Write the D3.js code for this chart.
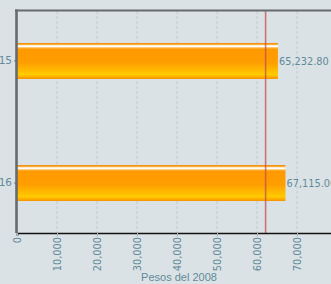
<!DOCTYPE html>
<html>
<head>
<meta charset="utf-8">
<script src="https://cdnjs.cloudflare.com/ajax/libs/d3/7.8.5/d3.min.js"></script>
<style>
	body{margin:0;background:#dbe2e5;overflow:hidden;}
	svg{display:block;}
</style>
</head>
<body>
<div id="container"></div>
<script>
const categories=["15", "16"];
const values=[65232.80, 67115.00];
const refValue=62150;
const xTicks=[0, 10000, 20000, 30000, 40000, 50000, 60000, 70000];
const xTitle="Pesos del 2008";

const w=331;
const h=284;
const margin={top:11, left:17, bottom:51, right:-10};
const graphWidth=w-margin.left-margin.right;
const graphHeight=h-margin.top-margin.bottom;
const textColor="#5f8a99";

const svg=d3.select("#container").append("svg").attr("width", w).attr("height", h);

// bar gradient
const defs=svg.append("defs");
const grad=defs.append("linearGradient").attr("id", "barGrad")
	.attr("x1", 0).attr("y1", 0).attr("x2", 0).attr("y2", 1);
[[0, "#ef8a00"], [0.04, "#f9a830"], [0.07, "#fff0d8"], [0.10, "#ffffff"], [0.13, "#ffc060"],
 [0.17, "#ff9900"], [0.55, "#ff9e00"], [0.80, "#ffc000"], [0.88, "#ffcc00"], [0.94, "#ffae00"], [1, "#f59000"]]
	.forEach(s => grad.append("stop").attr("offset", s[0]).attr("stop-color", s[1]));

const graph=svg.append("g").attr('transform', `translate(${margin.left}, ${margin.top})`);

const xScale=d3.scaleLinear()
	.domain([0, 81000])
	.range([0, graphWidth]);

const yScale=d3.scaleBand()
	.domain(categories)
	.range([0, graphHeight])
	.paddingInner(0.705)
	.paddingOuter(0.262);

// grid
graph.append("g").selectAll("line")
	.data(xTicks.slice(1).concat([80000]))
	.enter()
	.append("line")
		.attr("x1", d => xScale(d)).attr("x2", d => xScale(d))
		.attr("y1", 0).attr("y2", graphHeight + 4)
		.attr("stroke", "#c3cbcf")
		.attr("stroke-dasharray", "3,2");

// bars
graph.selectAll("rect.bar")
	.data(values)
	.enter()
	.append("rect")
		.attr("class", "bar")
		.attr("x", 0)
		.attr("y", (d, i) => yScale(categories[i]))
		.attr("width", d => xScale(d))
		.attr("height", yScale.bandwidth())
		.attr("fill", "url(#barGrad)");

// value labels
graph.selectAll("text.val")
	.data(values)
	.enter()
	.append("text")
		.attr("class", "val")
		.attr("x", d => xScale(d) + 1)
		.attr("y", (d, i) => yScale(categories[i]) + yScale.bandwidth()/2)
		.attr("dy", "0.36em")
		.attr("font-family", "DejaVu Sans")
		.attr("font-size", 9.8)
		.attr("fill", textColor)
		.text(d => d3.format(",.2f")(d));

// reference line
graph.append("line")
	.attr("x1", xScale(refValue)).attr("x2", xScale(refValue))
	.attr("y1", 0).attr("y2", graphHeight)
	.attr("stroke", "#c0504d")
	.attr("stroke-opacity", 0.75)
	.attr("stroke-width", 1.6);

// top border
graph.append("line")
	.attr("x1", -2).attr("x2", graphWidth)
	.attr("y1", -0.5).attr("y2", -0.5)
	.attr("stroke", "#666b6e").attr("stroke-width", 2);

// x axis
const xAxisGroup=graph.append("g").attr('transform', `translate(0, ${graphHeight})`);
const xAxis=d3.axisBottom(xScale)
	.tickValues(xTicks)
	.tickSize(3)
	.tickFormat(d3.format(","));
xAxisGroup.call(xAxis);
xAxisGroup.select(".domain").attr("stroke", "#111").attr("stroke-width", 1.6);
xAxisGroup.selectAll(".tick line").attr("stroke", "#aab3b7");
xAxisGroup.selectAll("text")
	.attr("font-family", "DejaVu Sans")
	.attr("font-size", 9.8)
	.attr("fill", textColor)
	.attr("transform", "rotate(-90)")
	.attr("text-anchor", "end")
	.attr("x", -4)
	.attr("y", 0)
	.attr("dy", "0.36em");

// y axis
const yAxisGroup=graph.append("g");
const yAxis=d3.axisLeft(yScale).tickSize(3).tickPadding(2);
yAxisGroup.call(yAxis);
yAxisGroup.select(".domain").attr("stroke", "none");
yAxisGroup.append("line")
	.attr("x1", -0.5).attr("x2", -0.5)
	.attr("y1", -1.5).attr("y2", graphHeight)
	.attr("stroke", "#666b6e").attr("stroke-width", 2.6);
yAxisGroup.selectAll(".tick line").attr("stroke", "#777");
yAxisGroup.selectAll("text")
	.attr("font-family", "DejaVu Sans")
	.attr("font-size", 10.5)
	.attr("fill", textColor);

// axis title
svg.append("text")
	.attr("x", 179)
	.attr("y", 281)
	.attr("text-anchor", "middle")
	.attr("font-family", "Liberation Sans, Arial")
	.attr("font-size", 11)
	.attr("fill", textColor)
	.text(xTitle);
</script>
</body>
</html>
